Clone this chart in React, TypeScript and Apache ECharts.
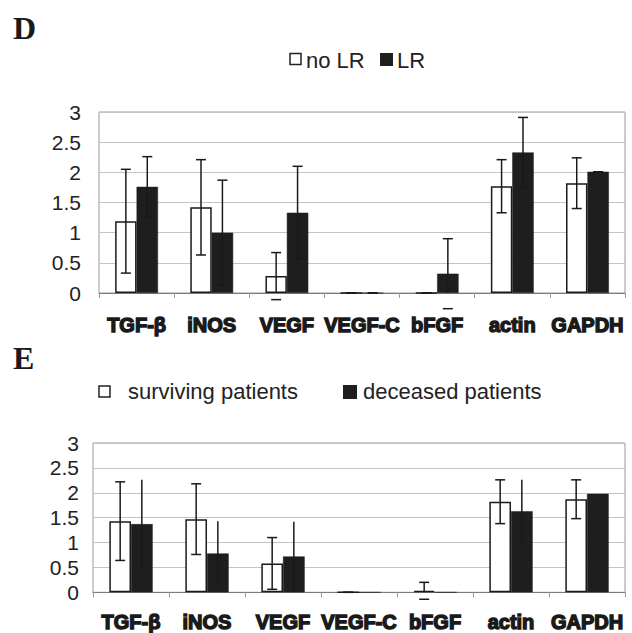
import React, { useEffect, useRef } from "react";
import * as echarts from "echarts";

const categories = ["TGF-β", "iNOS", "VEGF", "VEGF-C", "bFGF", "actin", "GAPDH"];
// Panel D
const noLRMean = [1.19, 1.42, 0.28, 0, 0, 1.77, 1.82];
const noLRErr = [0.86, 0.79, 0.39, 0, 0, 0.44, 0.42];
const lrMean = [1.76, 1.0, 1.33, 0, 0.32, 2.33, 2.01];
const lrErr = [0.5, 0.87, 0.77, 0, 0.58, 0.58, 0];
// Panel E
const survMean = [1.43, 1.47, 0.58, 0, 0.03, 1.82, 1.87];
const survErr = [0.79, 0.71, 0.52, 0, 0.17, 0.44, 0.39];
const decMean = [1.37, 0.78, 0.72, 0, 0, 1.63, 1.98];
const decErr = [0.89, 0.65, 0.7, 0, 0, 0.63, 0];
const yMin = 0;
const yMax = 3;
const yStep = 0.5;

const CAT_GAP = 0.43;

function errorSeries(name: string, idx: number, means: number[], errs: number[], offset: number, caps: boolean) {
  return {
    type: "custom",
    name,
    xAxisIndex: idx,
    yAxisIndex: idx,
    clip: false,
    z: 5,
    silent: true,
    data: means.map((m, i) => [i, m, errs[i]]),
    renderItem: (params: any, api: any) => {
      const ci = api.value(0);
      const m = api.value(1);
      const e = api.value(2);
      const band = api.size([1, 0])[0];
      const bw = (band * (1 - CAT_GAP)) / 2;
      const xc = api.coord([ci, 0])[0] + offset * bw;
      const y0 = api.coord([ci, 0])[1];
      const yTop = api.coord([ci, m + e])[1];
      const yBot = api.coord([ci, m - e])[1];
      const lineBot = Math.min(yBot, y0);
      const style = { stroke: "#1a1a1a", lineWidth: 1.5 };
      const children: any[] = [
        { type: "line", shape: { x1: xc, y1: yTop, x2: xc, y2: lineBot }, style },
      ];
      if (caps) {
        children.push({ type: "line", shape: { x1: xc - 5, y1: yTop, x2: xc + 5, y2: yTop }, style });
        children.push({ type: "line", shape: { x1: xc - 5, y1: yBot, x2: xc + 5, y2: yBot }, style });
      }
      return { type: "group", children };
    },
  };
}

function barSeries(name: string, idx: number, data: number[], white: boolean) {
  return {
    type: "bar",
    name,
    xAxisIndex: idx,
    yAxisIndex: idx,
    data,
    barGap: "0%",
    barCategoryGap: CAT_GAP * 100 + "%",
    itemStyle: white
      ? { color: "#ffffff", borderColor: "#1a1a1a", borderWidth: 1.5 }
      : { color: "#1e1e1e", borderColor: "#1e1e1e", borderWidth: 0.5 },
  };
}

const labelFont = "'Liberation Sans', Arial, sans-serif";

function xAxis(idx: number, margin: number) {
  return {
    type: "category",
    gridIndex: idx,
    data: categories,
    axisLine: { show: true, lineStyle: { color: "#7a7a7a", width: 1.2 } },
    axisTick: { show: true, length: 5, lineStyle: { color: "#9a9a9a" } },
    axisLabel: {
      margin,
      fontFamily: labelFont,
      fontWeight: "bold",
      fontSize: 20,
      color: "#1a1a1a",
      textBorderColor: "#1a1a1a",
      textBorderWidth: 1.4,
      interval: 0,
    },
  };
}

function yAxis(idx: number, margin: number) {
  return {
    type: "value",
    gridIndex: idx,
    min: yMin,
    max: yMax,
    interval: yStep,
    axisLine: { show: false },
    axisTick: { show: false },
    splitLine: { show: true, lineStyle: { color: "#c4c4c4", width: 1 } },
    axisLabel: {
      margin,
      fontFamily: labelFont,
      fontSize: 21,
      color: "#222",
    },
  };
}

export default function App() {
  const ref = useRef<HTMLDivElement>(null);
  useEffect(() => {
    if (!ref.current) return;
    const chart = echarts.init(ref.current, null, { renderer: "svg" });
    const legendText = { fontFamily: labelFont, fontSize: 22, fill: "#222" };
    chart.setOption({
      animation: false,
      backgroundColor: "#ffffff",
      grid: [
        { left: 99, right: 7, top: 112, height: 181, show: true, borderColor: "#9a9a9a", borderWidth: 1, backgroundColor: "transparent" },
        { left: 93, right: 7, top: 443, height: 150, show: true, borderColor: "#9a9a9a", borderWidth: 1, backgroundColor: "transparent" },
      ],
      xAxis: [xAxis(0, 22), xAxis(1, 20)],
      yAxis: [yAxis(0, 18), yAxis(1, 14)],
      series: [
        barSeries("no LR", 0, noLRMean, true),
        barSeries("LR", 0, lrMean, false),
        errorSeries("no LR error", 0, noLRMean, noLRErr, -0.5, true),
        errorSeries("LR error", 0, lrMean, lrErr, 0.5, true),
        barSeries("surviving patients", 1, survMean, true),
        barSeries("deceased patients", 1, decMean, false),
        errorSeries("surviving error", 1, survMean, survErr, -0.5, true),
        errorSeries("deceased error", 1, decMean, decErr, 0.5, false),
      ],
      graphic: [
        { type: "text", left: 13, top: 12, style: { text: "D", fontFamily: "'Liberation Serif', serif", fontWeight: "bold", fontSize: 32, fill: "#1a1a1a" } },
        { type: "text", left: 13, top: 342, style: { text: "E", fontFamily: "'Liberation Serif', serif", fontWeight: "bold", fontSize: 32, fill: "#1a1a1a" } },
        // legend D
        { type: "rect", shape: { x: 290, y: 53.5, width: 11, height: 11 }, style: { fill: "#fff", stroke: "#222", lineWidth: 1.5 } },
        { type: "text", x: 306, y: 60, style: { ...legendText, text: "no LR", verticalAlign: "middle" } },
        { type: "rect", shape: { x: 380, y: 53, width: 13, height: 13 }, style: { fill: "#1e1e1e" } },
        { type: "text", x: 397, y: 60, style: { ...legendText, text: "LR", verticalAlign: "middle" } },
        // legend E
        { type: "rect", shape: { x: 99, y: 386, width: 11, height: 11 }, style: { fill: "#fff", stroke: "#222", lineWidth: 1.5 } },
        { type: "text", x: 128, y: 391, style: { ...legendText, text: "surviving patients", verticalAlign: "middle" } },
        { type: "rect", shape: { x: 343, y: 385, width: 14, height: 14 }, style: { fill: "#1e1e1e" } },
        { type: "text", x: 363, y: 391, style: { ...legendText, text: "deceased patients", verticalAlign: "middle" } },
      ],
    });
    return () => chart.dispose();
  }, []);
  return <div ref={ref} style={{ position: "fixed", left: 0, top: 0, width: 632, height: 633 }} />;
}
